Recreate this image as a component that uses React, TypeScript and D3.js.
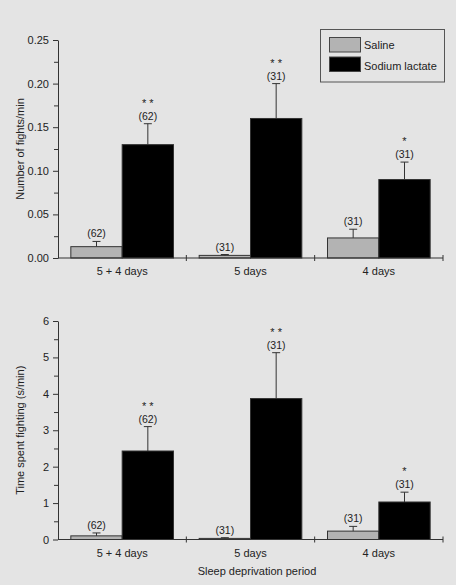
import * as d3 from "d3";
import { useEffect, useRef } from "react";

const periods = ["5 + 4 days", "5 days", "4 days"];
const groups = ["Saline", "Sodium lactate"];

// fights per minute
const fightsSaline = [0.013, 0.003, 0.023];
const fightsSalineErr = [0.006, 0.001, 0.010];
const fightsLactate = [0.13, 0.16, 0.09];
const fightsLactateErr = [0.024, 0.04, 0.02];

// seconds of fighting per minute
const timeSaline = [0.1, 0.03, 0.23];
const timeSalineErr = [0.08, 0.02, 0.13];
const timeLactate = [2.43, 3.87, 1.03];
const timeLactateErr = [0.67, 1.26, 0.27];

const nSaline = [62, 31, 31];
const nLactate = [62, 31, 31];
const starsSaline = ["", "", ""];
const starsLactate = ["* *", "* *", "*"];

const W = 456;
const H = 585;
const left = 58;
const right = 443;
const font = "'Liberation Sans', Arial, Helvetica, sans-serif";
const bg = "#e4e4e4";
const ink = "#222";
const salineFill = "#b3b3b3";

type Bar = { period: string; group: string; value: number; err: number; n: number; stars: string };

const buildBars = (sal: number[], salErr: number[], lac: number[], lacErr: number[]): Bar[] =>
  periods.flatMap((p, i) => [
    { period: p, group: groups[0], value: sal[i], err: salErr[i], n: nSaline[i], stars: starsSaline[i] },
    { period: p, group: groups[1], value: lac[i], err: lacErr[i], n: nLactate[i], stars: starsLactate[i] },
  ]);

type Panel = {
  bars: Bar[];
  yMax: number;
  yTop: number;
  yBottom: number;
  major: number[];
  minor: number[];
  fmt: (v: number) => string;
  yLabel: string;
};

const drawPanel = (
  root: d3.Selection<SVGGElement, unknown, null, undefined>,
  p: Panel
) => {
  const x = d3.scaleBand<string>().domain(periods).range([left, right]);
  const sub = d3
    .scaleBand<string>()
    .domain(groups)
    .range([0, x.bandwidth()])
    .paddingInner(0)
    .paddingOuter(0.25);
  const y = d3.scaleLinear().domain([0, p.yMax]).range([p.yBottom, p.yTop]);

  const g = root.append("g");

  // bars
  g.selectAll("rect.bar")
    .data(p.bars)
    .join("rect")
    .attr("class", "bar")
    .attr("x", (d) => x(d.period)! + sub(d.group)!)
    .attr("y", (d) => y(d.value))
    .attr("width", sub.bandwidth())
    .attr("height", (d) => y(0) - y(d.value))
    .attr("fill", (d) => (d.group === groups[0] ? salineFill : "#000"))
    .attr("stroke", "#333")
    .attr("stroke-width", 1);

  const cx = (d: Bar) => x(d.period)! + sub(d.group)! + sub.bandwidth() / 2;
  const capY = (d: Bar) => y(d.value + d.err);

  // error bars (upper only)
  g.selectAll("path.err")
    .data(p.bars)
    .join("path")
    .attr("class", "err")
    .attr("fill", "none")
    .attr("stroke", "#333")
    .attr("stroke-width", 1)
    .attr(
      "d",
      (d) =>
        `M${cx(d)},${y(d.value)}V${capY(d)}M${cx(d) - 4},${capY(d)}H${cx(d) + 4}`
    );

  g.selectAll("text.n")
    .data(p.bars)
    .join("text")
    .attr("class", "n")
    .attr("x", cx)
    .attr("y", (d) => capY(d) - 4)
    .attr("text-anchor", "middle")
    .attr("font-size", 10.5)
    .attr("fill", ink)
    .text((d) => `(${d.n})`);

  g.selectAll("text.stars")
    .data(p.bars.filter((d) => d.stars))
    .join("text")
    .attr("class", "stars")
    .attr("x", cx)
    .attr("y", (d) => capY(d) - 17)
    .attr("text-anchor", "middle")
    .attr("font-size", 11)
    .attr("fill", ink)
    .text((d) => d.stars);

  // y axis
  const yAxis = g.append("g").attr("transform", `translate(${left},0)`);
  yAxis.call(
    d3
      .axisLeft(y)
      .tickValues(p.major)
      .tickFormat((v) => p.fmt(v as number))
      .tickSize(5)
      .tickSizeOuter(0)
      .tickPadding(4)
  );
  yAxis
    .append("g")
    .call(d3.axisLeft(y).tickValues(p.minor).tickFormat(() => "").tickSize(4))
    .select(".domain")
    .remove();
  yAxis.selectAll("path, line").attr("stroke", "#333");
  yAxis.selectAll("text").attr("font-size", 11).attr("fill", ink).attr("font-family", font);

  // x axis: baseline with ticks at the group boundaries
  const xAxis = g.append("g").attr("transform", `translate(0,${y(0)})`);
  xAxis
    .append("line")
    .attr("x1", left)
    .attr("x2", right)
    .attr("stroke", "#333");
  const bounds = periods.slice(1).map((c) => x(c)!).concat([right]);
  xAxis
    .selectAll("line.tick")
    .data(bounds)
    .join("line")
    .attr("class", "tick")
    .attr("x1", (d) => d)
    .attr("x2", (d) => d)
    .attr("y1", -3)
    .attr("y2", 3)
    .attr("stroke", "#333");
  xAxis
    .selectAll("text")
    .data(periods)
    .join("text")
    .attr("x", (d) => x(d)! + x.bandwidth() / 2)
    .attr("y", 17)
    .attr("text-anchor", "middle")
    .attr("font-size", 11)
    .attr("fill", ink)
    .text((d) => d);

  g.append("text")
    .attr("transform", `translate(24,${(p.yTop + p.yBottom) / 2}) rotate(-90)`)
    .attr("text-anchor", "middle")
    .attr("font-size", 11)
    .attr("fill", ink)
    .text(p.yLabel);
};

const App = () => {
  const svgRef = useRef<SVGSVGElement | null>(null);

  useEffect(() => {
    const svg = d3.select(svgRef.current);
    svg.selectAll("*").remove();
    svg.append("rect").attr("width", W).attr("height", H).attr("fill", bg);
    const root = svg.append("g").attr("font-family", font);

    drawPanel(root, {
      bars: buildBars(fightsSaline, fightsSalineErr, fightsLactate, fightsLactateErr),
      yMax: 0.25,
      yTop: 40,
      yBottom: 258,
      major: [0, 0.05, 0.1, 0.15, 0.2, 0.25],
      minor: [0.025, 0.075, 0.125, 0.175, 0.225],
      fmt: d3.format(".2f"),
      yLabel: "Number of fights/min",
    });

    drawPanel(root, {
      bars: buildBars(timeSaline, timeSalineErr, timeLactate, timeLactateErr),
      yMax: 6,
      yTop: 321,
      yBottom: 539.5,
      major: [0, 1, 2, 3, 4, 5, 6],
      minor: [0.5, 1.5, 2.5, 3.5, 4.5, 5.5],
      fmt: d3.format("d"),
      yLabel: "Time spent fighting (s/min)",
    });

    root
      .append("text")
      .attr("x", 257)
      .attr("y", 575)
      .attr("text-anchor", "middle")
      .attr("font-size", 11)
      .attr("fill", ink)
      .text("Sleep deprivation period");

    // legend
    const legend = root.append("g");
    legend
      .append("rect")
      .attr("x", 320.5)
      .attr("y", 29.5)
      .attr("width", 124)
      .attr("height", 52.5)
      .attr("fill", "none")
      .attr("stroke", "#555");
    groups.forEach((name, i) => {
      legend
        .append("rect")
        .attr("x", 329.5)
        .attr("y", 37.5 + i * 19.5)
        .attr("width", 31)
        .attr("height", 14.5)
        .attr("fill", i === 0 ? salineFill : "#000")
        .attr("stroke", "#444");
      legend
        .append("text")
        .attr("x", 364)
        .attr("y", 48.5 + i * 21)
        .attr("font-size", 11)
        .attr("fill", ink)
        .text(name);
    });
  }, []);

  return (
    <svg
      ref={svgRef}
      width={W}
      height={H}
      style={{ position: "absolute", left: 0, top: 0 }}
    />
  );
};

export default App;
